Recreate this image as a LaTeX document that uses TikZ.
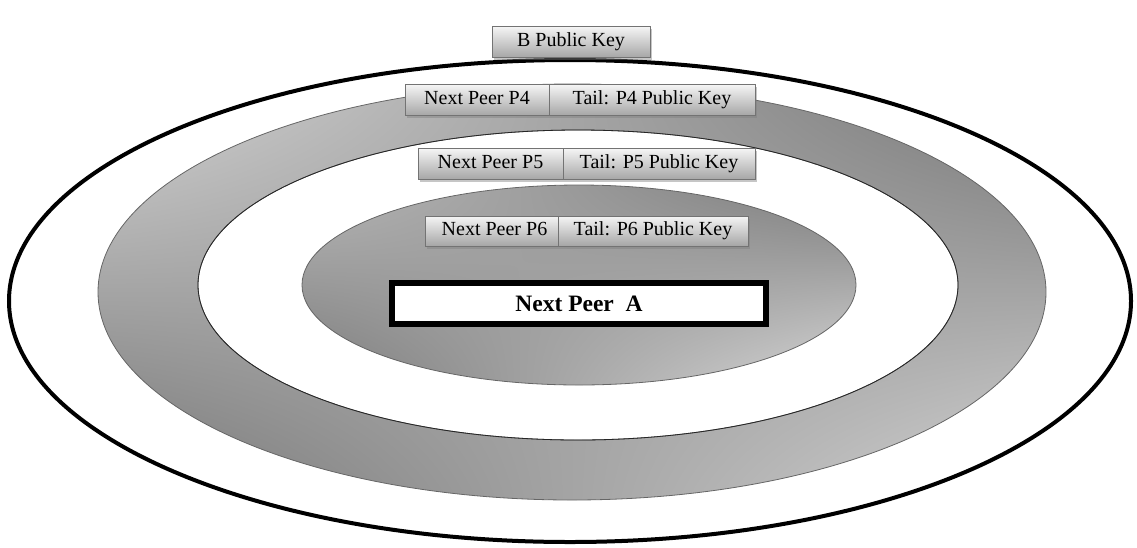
\documentclass[tikz,border=0pt]{standalone}
\usepackage{fontspec}
\setmainfont{Liberation Serif}
\usetikzlibrary{positioning,shadings,shadows}

\begin{document}
\begin{tikzpicture}[x=1pt,y=-1pt]
  \tikzstyle{keybox}=[draw=black!55,line width=1pt,outer sep=0pt,inner sep=0pt,top color=black!4,bottom color=black!35,minimum height=31pt,text height=13pt,text depth=4pt,font=\fontsize{20}{22}\selectfont,drop shadow={shadow xshift=1.5pt,shadow yshift=-2.5pt,opacity=.45}]
  \tikzstyle{peerbox}=[draw=black,line width=6pt,fill=white,inner sep=0pt,font=\bfseries\fontsize{23.5}{26}\selectfont]
  \useasboundingbox (0,0) rectangle (1137,547);

  % layers
  \draw[line width=4pt] (570,301) ellipse [x radius=561pt, y radius=241pt];
  \shadedraw[even odd rule,draw=black!60,line width=.8pt,upper left=black!16,upper right=black!55,lower left=black!55,lower right=black!16]
    (572,292) ellipse [x radius=474pt, y radius=208pt]
    (578,285) ellipse [x radius=380pt, y radius=155pt];
  \draw[black!85,line width=.8pt] (578,285) ellipse [x radius=380pt, y radius=155pt];
  \shadedraw[draw=black!60,line width=.8pt,upper left=black!28,upper right=black!52,lower left=black!52,lower right=black!15]
    (579,285) ellipse [x radius=277pt, y radius=100pt];

  % keys
  \node[keybox,minimum width=158pt] (B_key) at (571,42) {B Public Key};

  \node[keybox,minimum width=144pt] (P4_peer) at (477,100) {Next Peer P4};
  \node[keybox,minimum width=206pt,anchor=west] (P4_tail) at (P4_peer.east) {Tail: P4 Public Key};

  \node[keybox,minimum width=145pt] (P5_peer) at (490.5,164) {Next Peer P5};
  \node[keybox,minimum width=192pt,anchor=west] (P5_tail) at (P5_peer.east) {Tail: P5 Public Key};

  \node[keybox,minimum width=133pt,minimum height=30pt] (P6_peer) at (491.5,231) {\hspace{6pt}Next Peer P6};
  \node[keybox,minimum width=190pt,minimum height=30pt,anchor=west] (P6_tail) at (P6_peer.east) {Tail: P6 Public Key};

  \node[peerbox,minimum width=374pt,minimum height=41pt] (A_peer) at (579,303.5) {Next Peer\ \ A};
\end{tikzpicture}
\end{document}
